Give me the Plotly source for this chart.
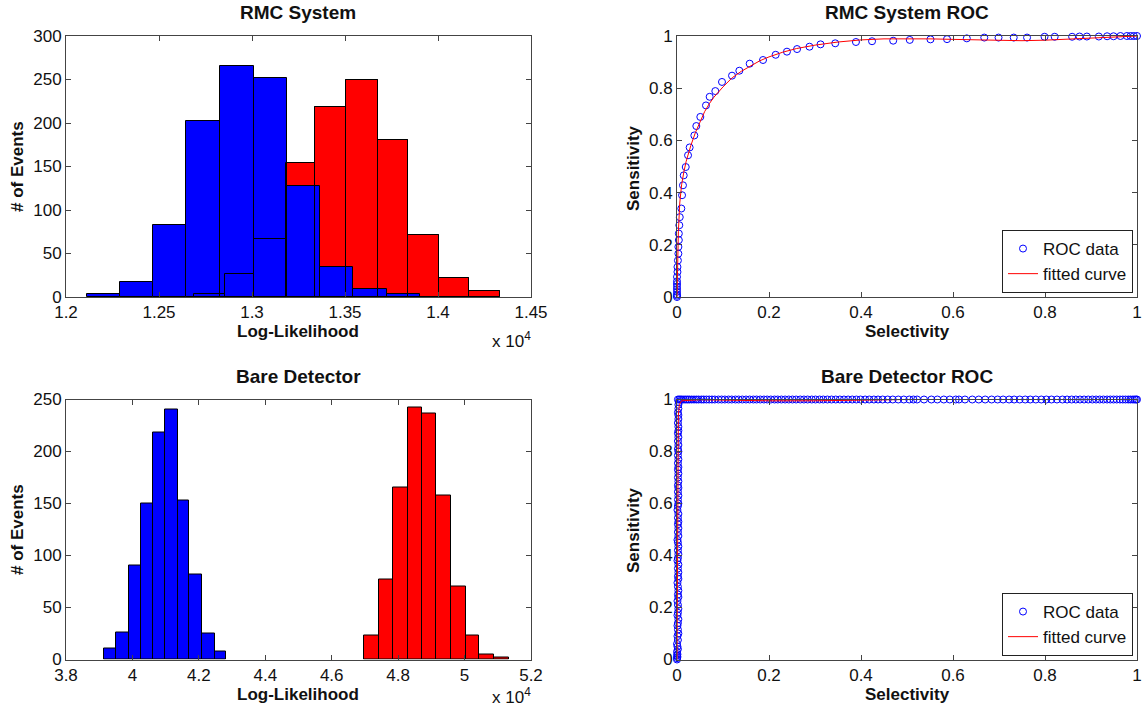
import numpy as np
import plotly.graph_objects as go

W, H = 1147, 710
FONT = "Liberation Sans, Arial, sans-serif"

# ---------------- data ----------------
# RMC System histogram (x in units of 1e4)
rmc_blue_edges = [1.2111, 1.2290, 1.2469, 1.2647, 1.2830, 1.3009, 1.3189, 1.3363, 1.3541, 1.3726, 1.3903]
rmc_blue_counts = [4, 17, 83, 202, 266, 252, 128, 34, 9, 3]
rmc_red_edges = [1.2688, 1.2853, 1.3009, 1.3184, 1.3341, 1.3506, 1.3676, 1.3840, 1.4006, 1.4167, 1.4332]
rmc_red_counts = [4, 26, 67, 154, 218, 250, 181, 71, 22, 7]

# Bare Detector histogram (x in units of 1e4)
bare_blue_edges = [3.9155, 3.9506, 3.9888, 4.0260, 4.0622, 4.0994, 4.1365, 4.1717, 4.2099, 4.2471, 4.2824]
bare_blue_counts = [11, 26, 90, 150, 218, 240, 153, 82, 25, 8]
bare_red_edges = [4.6963, 4.7415, 4.7847, 4.8300, 4.8721, 4.9154, 4.9606, 5.0038, 5.0439, 5.0882, 5.1344]
bare_red_counts = [23, 77, 165, 242, 237, 158, 70, 23, 5, 2]

rmc_x_ticks = [1.2, 1.25, 1.3, 1.35, 1.4, 1.45]
rmc_x_labels = ["1.2", "1.25", "1.3", "1.35", "1.4", "1.45"]
rmc_y_ticks = [0, 50, 100, 150, 200, 250, 300]
bare_x_ticks = [3.8, 4.0, 4.2, 4.4, 4.6, 4.8, 5.0, 5.2]
bare_x_labels = ["3.8", "4", "4.2", "4.4", "4.6", "4.8", "5", "5.2"]
bare_y_ticks = [0, 50, 100, 150, 200, 250]
roc_ticks = [0, 0.2, 0.4, 0.6, 0.8, 1.0]
roc_labels = ["0", "0.2", "0.4", "0.6", "0.8", "1"]

# RMC System ROC data
rmc_roc_x = [0, 0, 0, 0, 0, 0, 0, 0, 0, 0.001, 0.001, 0.002, 0.003, 0.003, 0.004, 0.004,
             0.005, 0.006, 0.0094, 0.011, 0.013, 0.0146, 0.019, 0.024, 0.0275, 0.0377, 0.042,
             0.0507, 0.063, 0.071, 0.0833, 0.0978, 0.1196, 0.1355, 0.158, 0.187, 0.2145, 0.239,
             0.261, 0.288, 0.312, 0.344, 0.389, 0.424, 0.47, 0.506, 0.551, 0.587, 0.630, 0.668,
             0.699, 0.732, 0.761, 0.799, 0.821, 0.859, 0.875, 0.891, 0.917, 0.935, 0.949, 0.964,
             0.978, 0.986, 0.993, 1.0]
rmc_roc_y = [0, 0.005, 0.01, 0.02, 0.03, 0.04, 0.05, 0.06, 0.077, 0.096, 0.115, 0.14, 0.166, 0.192,
             0.218, 0.243, 0.275, 0.306, 0.339, 0.39, 0.428, 0.466, 0.498, 0.543, 0.573, 0.619,
             0.655, 0.69, 0.734, 0.767, 0.789, 0.824, 0.848, 0.867, 0.894, 0.908, 0.928, 0.94,
             0.95, 0.959, 0.968, 0.972, 0.977, 0.98, 0.982, 0.985, 0.987, 0.988, 0.991, 0.994,
             0.994, 0.994, 0.994, 0.997, 0.997, 0.997, 0.998, 0.998, 0.998, 0.999, 0.999, 1.0,
             1.0, 1.0, 1.0, 1.0]
rmc_fit_x = [0, 0.001, 0.003, 0.006, 0.01, 0.015, 0.02, 0.03, 0.04, 0.05, 0.06, 0.07, 0.08, 0.1,
             0.12, 0.14, 0.16, 0.18, 0.2, 0.23, 0.26, 0.3, 0.35, 0.4, 0.45, 0.5, 0.55, 0.6, 0.65,
             0.7, 0.75, 0.8, 0.85, 0.9, 0.95, 1.0]
rmc_fit_y = [0, 0.12, 0.25, 0.36, 0.43, 0.48, 0.52, 0.58, 0.63, 0.67, 0.71, 0.74, 0.765, 0.805,
             0.84, 0.865, 0.885, 0.905, 0.92, 0.938, 0.952, 0.965, 0.977, 0.985, 0.989, 0.99,
             0.989, 0.987, 0.985, 0.982, 0.982, 0.984, 0.988, 0.993, 0.997, 1.0]

# Bare Detector ROC data: vertical run at x~0, then horizontal run at y~1
bare_roc_vert_y = [0, 0.005, 0.01, 0.015, 0.02, 0.03, 0.04, 0.05, 0.06, 0.075, 0.09, 0.1, 0.115,
                   0.13, 0.14, 0.155, 0.17, 0.18, 0.195, 0.21, 0.225, 0.24, 0.25, 0.265, 0.28,
                   0.295, 0.31, 0.32, 0.335, 0.35, 0.365, 0.38, 0.39, 0.405, 0.42, 0.435, 0.45,
                   0.46, 0.475, 0.49, 0.505, 0.52, 0.53, 0.545, 0.56, 0.575, 0.59, 0.6, 0.615,
                   0.63, 0.645, 0.66, 0.67, 0.685, 0.7, 0.715, 0.73, 0.74, 0.755, 0.77, 0.785,
                   0.8, 0.81, 0.825, 0.84, 0.855, 0.87, 0.88, 0.895, 0.91, 0.925, 0.94, 0.95,
                   0.965, 0.98, 0.99]
bare_roc_vert_x = [0, 0, 0.001, 0, 0.001, 0, 0.002, 0.001, 0, 0.002, 0.001, 0.003, 0.002,
                   0.001, 0.002, 0.003, 0.001, 0.002, 0.003, 0.002, 0.001, 0.003, 0.002, 0.003,
                   0.002, 0.001, 0.003, 0.002, 0.003, 0.002, 0.003, 0.001, 0.002, 0.003, 0.002,
                   0.003, 0.002, 0.001, 0.003, 0.002, 0.003, 0.002, 0.003, 0.002, 0.003, 0.001,
                   0.002, 0.003, 0.002, 0.003, 0.002, 0.003, 0.002, 0.003, 0.002, 0.003, 0.002,
                   0.003, 0.002, 0.003, 0.002, 0.003, 0.002, 0.003, 0.002, 0.003, 0.002, 0.003,
                   0.003, 0.002, 0.003, 0.003, 0.002, 0.003, 0.003, 0.004]
bare_roc_horiz_x = [0.002, 0.005, 0.008, 0.011, 0.015, 0.019, 0.023, 0.027, 0.032, 0.037, 0.042,
                    0.047, 0.053, 0.058, 0.064, 0.070, 0.076, 0.082, 0.090, 0.097, 0.104, 0.112,
                    0.119, 0.127, 0.134, 0.142, 0.150, 0.158, 0.166, 0.173, 0.181, 0.189, 0.196,
                    0.204, 0.212, 0.219, 0.227, 0.235, 0.243, 0.251, 0.259, 0.268, 0.276, 0.284,
                    0.293, 0.301, 0.310, 0.318, 0.327, 0.336, 0.345, 0.354, 0.363, 0.372, 0.381,
                    0.390, 0.399, 0.409, 0.418, 0.428, 0.437, 0.447, 0.458, 0.469, 0.481, 0.493,
                    0.505, 0.514, 0.522, 0.537, 0.553, 0.566, 0.580, 0.593, 0.606, 0.613, 0.626,
                    0.642, 0.656, 0.670, 0.684, 0.697, 0.709, 0.722, 0.733, 0.745, 0.757, 0.768,
                    0.780, 0.792, 0.803, 0.814, 0.826, 0.838, 0.848, 0.858, 0.867, 0.876, 0.885,
                    0.894, 0.903, 0.911, 0.919, 0.927, 0.935, 0.942, 0.949, 0.956, 0.963, 0.969,
                    0.975, 0.981, 0.986, 0.991, 0.995, 0.998, 1.0]
bare_roc_horiz_y = [1.0] * len(bare_roc_horiz_x)
bare_fit_x = [0, 0.0005, 0.001, 0.002, 0.003, 0.005, 0.01, 0.05, 0.1, 0.2, 0.3, 0.4, 0.45, 0.5, 0.7, 1.0]
bare_fit_y = [0, 0.3, 0.6, 0.85, 0.94, 0.98, 0.995, 0.999, 0.997, 0.995, 0.995, 0.997, 0.999, 1.0, 1.0, 1.0]

# ---------------- helpers ----------------
def px(x, y):
    return x / W, 1 - y / H

def bars(edges, counts, color, axis, outline_only=False):
    e = np.asarray(edges, dtype=float)
    centers = (e[:-1] + e[1:]) / 2
    widths = np.diff(e)
    return go.Bar(x=centers, y=counts, width=widths,
                  marker=dict(color="rgba(0,0,0,0)" if outline_only else color,
                              line=dict(color="black", width=1)),
                  xaxis="x" + axis, yaxis="y" + axis, showlegend=False, hoverinfo="skip")

fig = go.Figure()
# Top-left: RMC System
fig.add_trace(bars(rmc_red_edges, rmc_red_counts, "#ff0000", ""))
fig.add_trace(bars(rmc_blue_edges, rmc_blue_counts, "#0000ff", ""))
fig.add_trace(bars(rmc_red_edges, rmc_red_counts, "#ff0000", "", outline_only=True))
# Bottom-left: Bare Detector
fig.add_trace(bars(bare_blue_edges, bare_blue_counts, "#0000ff", "3"))
fig.add_trace(bars(bare_red_edges, bare_red_counts, "#ff0000", "3"))

marker_style = dict(symbol="circle-open", size=7, color="#0000ff", line=dict(width=1, color="#0000ff"))
# Top-right ROC
fig.add_trace(go.Scatter(x=rmc_roc_x, y=rmc_roc_y, mode="markers", marker=marker_style,
                         name="ROC data", xaxis="x2", yaxis="y2", legend="legend", cliponaxis=False))
fig.add_trace(go.Scatter(x=rmc_fit_x, y=rmc_fit_y, mode="lines", line=dict(color="#ff0000", width=1),
                         name="fitted curve", xaxis="x2", yaxis="y2", legend="legend", cliponaxis=False))
# Bottom-right ROC
fig.add_trace(go.Scatter(x=bare_roc_vert_x + bare_roc_horiz_x, y=bare_roc_vert_y + bare_roc_horiz_y,
                         mode="markers", marker=marker_style, name="ROC data",
                         xaxis="x4", yaxis="y4", legend="legend2", cliponaxis=False))
fig.add_trace(go.Scatter(x=bare_fit_x, y=bare_fit_y, mode="lines", line=dict(color="#ff0000", width=1),
                         name="fitted curve", xaxis="x4", yaxis="y4", legend="legend2", cliponaxis=False))

LINE = "#444444"
tickfont = dict(family=FONT, size=17, color="#111111")

def axis(domain, rng, anchor, tickvals, ticktext=None):
    d = dict(domain=domain, range=rng, anchor=anchor, showline=True, linecolor=LINE, linewidth=1,
             mirror="ticks", ticks="inside", ticklen=5, tickcolor=LINE, tickwidth=1,
             showgrid=False, zeroline=False, tickvals=tickvals, tickfont=tickfont,
             automargin=False, fixedrange=True)
    if ticktext is not None:
        d["ticktext"] = ticktext
    return d

xl = [66 / W, 531 / W]
xr = [677 / W, 1137 / W]
yt = [1 - 297 / H, 1 - 36 / H]
yb = [1 - 659.5 / H, 1 - 399.5 / H]

fig.update_layout(
    width=W, height=H, margin=dict(l=0, r=0, t=0, b=0),
    paper_bgcolor="white", plot_bgcolor="white", barmode="overlay", bargap=0,
    xaxis=axis(xl, [1.2, 1.45], "y", rmc_x_ticks, rmc_x_labels),
    yaxis=axis(yt, [0, 300], "x", rmc_y_ticks),
    xaxis2=axis(xr, [0, 1], "y2", roc_ticks, roc_labels),
    yaxis2=axis(yt, [0, 1], "x2", roc_ticks, roc_labels),
    xaxis3=axis(xl, [3.8, 5.2], "y3", bare_x_ticks, bare_x_labels),
    yaxis3=axis(yb, [0, 250], "x3", bare_y_ticks),
    xaxis4=axis(xr, [0, 1], "y4", roc_ticks, roc_labels),
    yaxis4=axis(yb, [0, 1], "x4", roc_ticks, roc_labels),
    legend=dict(x=1133 / W, y=1 - 293 / H, xanchor="right", yanchor="bottom",
                bordercolor="#222222", borderwidth=1, bgcolor="white",
                font=dict(family=FONT, size=17, color="#111111"), tracegroupgap=0, itemwidth=30),
    legend2=dict(x=1133 / W, y=1 - 656 / H, xanchor="right", yanchor="bottom",
                 bordercolor="#222222", borderwidth=1, bgcolor="white",
                 font=dict(family=FONT, size=17, color="#111111"), tracegroupgap=0, itemwidth=30),
)

def label(text, x, y, size=17, bold=True, angle=0):
    ax, ay = px(x, y)
    t = "<b>%s</b>" % text if bold else text
    fig.add_annotation(text=t, x=ax, y=ay, xref="paper", yref="paper", showarrow=False,
                       xanchor="center", yanchor="middle", textangle=angle,
                       font=dict(family=FONT, size=size, color="#111111"))

# titles
label("RMC System", 298, 13, size=19)
label("RMC System ROC", 907, 13, size=19)
label("Bare Detector", 298, 377, size=19)
label("Bare Detector ROC", 907, 377, size=19)
# axis labels
label("Log-Likelihood", 298, 331)
label("Log-Likelihood", 298, 694)
label("x 10<sup>4</sup>", 511, 340, bold=False)
label("x 10<sup>4</sup>", 511, 696, bold=False)
label("# of Events", 17, 167, angle=-90)
label("# of Events", 17, 530, angle=-90)
label("Selectivity", 907, 331)
label("Selectivity", 907, 694)
label("Sensitivity", 633, 168, angle=-90)
label("Sensitivity", 633, 530, angle=-90)

fig.write_html("out.html")
